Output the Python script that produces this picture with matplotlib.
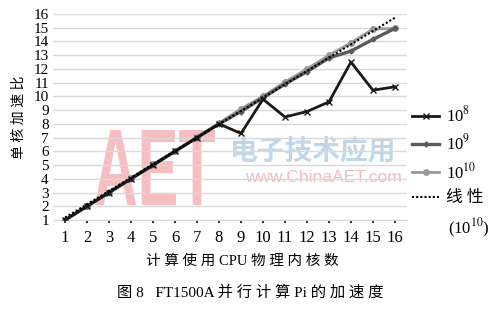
import numpy as np
import matplotlib.pyplot as plt
from matplotlib.textpath import TextPath
from matplotlib.patches import PathPatch
from matplotlib.font_manager import FontProperties
from matplotlib.transforms import Affine2D

plt.rcParams['font.family'] = ['Liberation Serif', 'Noto Sans CJK SC']
plt.rcParams['mathtext.fontset'] = 'stix'

cores = np.arange(1, 17)
s_1e8 = [1, 2, 3, 4, 5, 6, 7, 8, 7.3, 9.8, 8.5, 8.9, 9.6, 12.5, 10.45, 10.7]
s_1e9 = [1, 2, 3, 4, 5, 6, 7, 8, 8.9, 9.9, 10.9, 11.8, 12.8, 13.3, 14.15, 14.95]
s_1e10 = [1, 2.05, 3.05, 4.05, 5.05, 6.05, 7.05, 8.05, 9.1, 10.0, 11.05, 12.0, 13.0, 13.9, 14.9, 14.95]
y_ticks = list(range(1, 17))

# linear trendline of the 10^10 series (as Excel draws it)
k, b = np.polyfit(cores, s_1e10, 1)
trend = k * cores + b

W, H = 494, 310
fig = plt.figure(figsize=(W / 100, H / 100), dpi=100)
ax = fig.add_axes([0.1073, 0.2903, 0.7166, 0.6645])
ax.set_zorder(2)
ax.patch.set_alpha(0)

# watermark (AET logo), drawn in pixel space behind the axes
tp = TextPath((0, 0), 'AET', size=1, prop=FontProperties(family='Liberation Sans', weight='bold'))
ext = tp.get_extents()
tr = Affine2D().translate(-ext.x0, -ext.y0).scale(120 / ext.width, 75 / ext.height).translate(95, H - 205)
fig.patches.append(PathPatch(tp, transform=tr, fc='#f3a9ad', ec='none', alpha=0.75, zorder=0))
fig.text(230 / W, (H - 160) / H, '电子技术应用', fontsize=20, color='#b7d0e6',
         family='Noto Sans CJK SC', fontweight='bold', alpha=0.85, va='baseline', zorder=0)
fig.text(245 / W, (H - 182) / H, 'www.ChinaAET.com', fontsize=12.5, color='#f3a9ad',
         family='Liberation Sans', alpha=0.8, va='baseline', zorder=0)

ax.plot(cores, s_1e8, color='#1a1a1a', lw=2.0, marker='x', ms=4, mew=1,
        label='10$^{8}$', zorder=5)
ax.plot(cores, s_1e9, color='#5a5a5a', lw=2.4, marker='D', ms=2.5,
        label='10$^{9}$', zorder=4)
ax.plot(cores, s_1e10, color='#9a9a9a', lw=2.0, marker='o', ms=4,
        label='10$^{10}$', zorder=3)
ax.plot(cores, trend, color='black', lw=1.5, ls=(0, (1, 1)),
        label='线 性', zorder=6)

ax.set_xlim(0.45, 16.55)
ax.set_ylim(1, 16)
ax.set_xticks(cores)
ax.set_yticks(y_ticks)
ax.grid(axis='y', color='#d9d9d9', lw=1)
ax.set_axisbelow(True)
for s in ['top', 'right', 'left']:
    ax.spines[s].set_visible(False)
ax.spines['bottom'].set_color('#d9d9d9')
ax.tick_params(axis='x', length=2, width=1.5, color='#333333', labelsize=12, pad=5)
ax.tick_params(axis='y', length=0, labelsize=11, pad=3)

ax.set_ylabel('单 核 加 速 比', fontsize=10, labelpad=6)
ax.set_xlabel('计 算 使 用 CPU 物 理 内 核 数', fontsize=10.5)
ax.xaxis.set_label_coords(0.534, -0.165)

fig.legend(loc='upper left', bbox_to_anchor=(0.835, 0.66), frameon=False,
           fontsize=12, handlelength=1.6, handletextpad=0.4, labelspacing=0.5,
           borderaxespad=0, borderpad=0)
fig.text(0.906, 0.262, '(10$^{10}$)', fontsize=12, ha='left', va='center')

fig.text(0.506, 0.055, '图 8   FT1500A 并 行 计 算 Pi 的 加 速 度', fontsize=11,
         ha='center', va='center')

fig.savefig('out.png', dpi=100)
